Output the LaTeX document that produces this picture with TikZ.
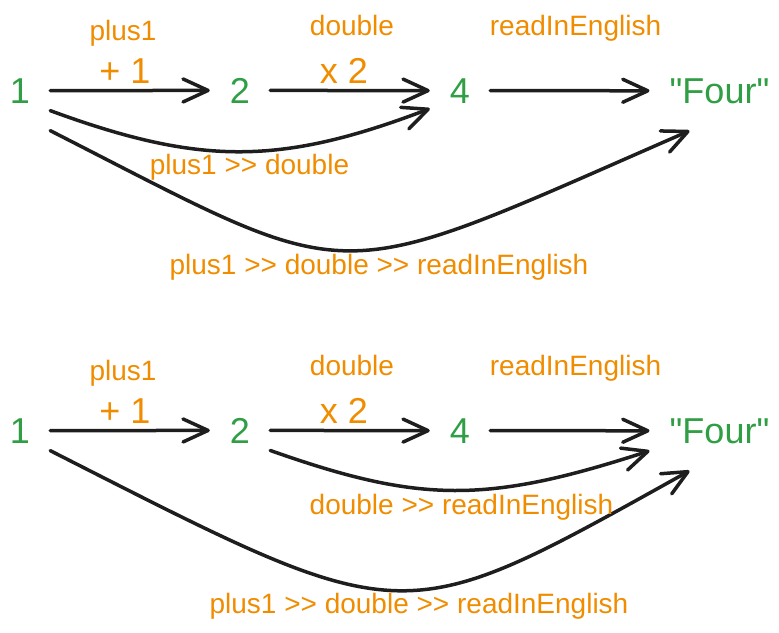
\documentclass[tikz,border=0pt]{standalone}
\usepackage{fontspec}
\setmainfont{Liberation Sans}[Ligatures=TeXOff]
\usetikzlibrary{positioning,arrows.meta}
\definecolor{valgreen}{HTML}{2F9E44}
\definecolor{fnorange}{HTML}{F08C00}
\definecolor{inkblack}{HTML}{1E1E1E}
\tikzset{
value/.style={text=valgreen, font=\fontsize{36}{40}\selectfont, anchor=base, inner xsep=20pt, inner ysep=0pt},
op/.style={text=fnorange, font=\fontsize{36}{40}\selectfont, anchor=base, inner sep=0pt},
fname/.style={text=fnorange, font=\fontsize{28}{32}\selectfont, anchor=base, inner sep=0pt},
arr/.style={draw=inkblack, line width=3.5pt, line cap=round, -{Straight Barb[length=25pt,width=23pt,round]}}
}

\begin{document}
\begin{tikzpicture}[x=1pt, y=-1pt]
  \useasboundingbox (0,0) rectangle (779,632);
  % two rows, the same chain of functions
  \foreach \r/\dy in {a/0, b/340} {
    \node[value] (\r1) at (20,103+\dy) {1};
    \node[value] (\r2) at (240,103+\dy) {2};
    \node[value] (\r4) at (460,103+\dy) {4};
    \node[value] (\r f) at (719.5,103+\dy) {"Four"};
    \node[fname] (\r plus) at (123,40+\dy) {plus1};
    \node[op] (\r inc) at (125,83+\dy) {+ 1};
    \node[fname] (\r dbl) at (352,35+\dy) {double};
    \node[op] (\r twice) at (344,83+\dy) {x 2};
    \node[fname] (\r read) at (575.5,35+\dy) {readInEnglish};
    \draw[arr] (\r1.east) -- (\r2.west);
    \draw[arr] (\r2.east) -- (\r4.west);
    \draw[arr] (\r4.east) -- (\r f.west);
  }
  % composed arrows, top
  \draw[arr] ([yshift=-20pt]a1.east) .. controls +(150,55) and +(-150,57) .. ([yshift=-18pt]a4.west);
  \draw[arr] ([yshift=-40pt]a1.east) .. controls +(314,160) and +(-367,160) .. ([xshift=40pt,yshift=-40pt]af.west);
  \node[fname] (pd) at (249.5,174) {plus1 >> double};
  \node[fname] (pdr) at (379,274) {plus1 >> double >> readInEnglish};
  % composed arrows, bottom
  \draw[arr] ([yshift=-20pt]b2.east) .. controls +(150,53) and +(-163,53) .. ([yshift=-20pt]bf.west);
  \draw[arr] ([yshift=-20pt]b1.east) .. controls +(360,183) and +(-293,163) .. ([xshift=40pt,yshift=-40pt]bf.west);
  \node[fname] (dr) at (461.5,514) {double >> readInEnglish};
  \node[fname] (bpdr) at (419,613) {plus1 >> double >> readInEnglish};
\end{tikzpicture}
\end{document}
